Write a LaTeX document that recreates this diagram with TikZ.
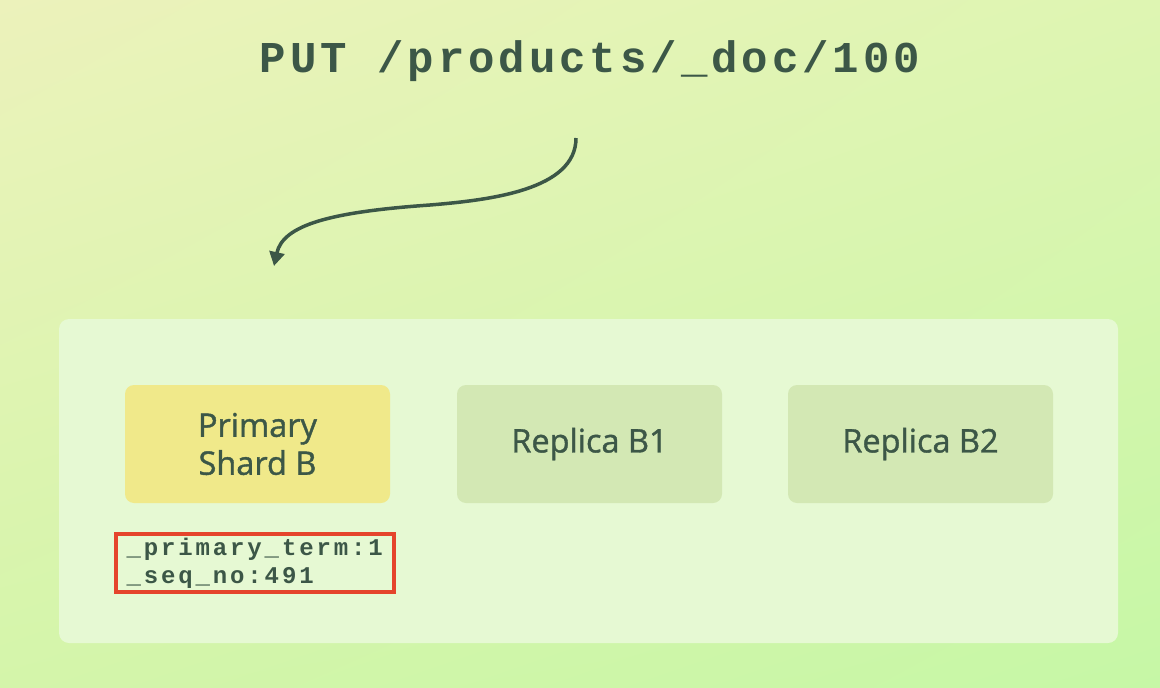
\documentclass[tikz,border=0pt]{standalone}
\usepackage{fontspec}
\setmainfont{Open Sans}
\newfontfamily\labelfont[FakeBold=1.2]{Open Sans}
\newfontfamily\titlemono[LetterSpace=9]{Liberation Mono Bold}
\newfontfamily\smallmono[LetterSpace=12]{Liberation Mono Bold}
\usetikzlibrary{arrows.meta,shadings}
\definecolor{ink}{HTML}{3C5747}
\definecolor{panelc}{HTML}{E6F9D3}
\definecolor{primc}{HTML}{F0E98A}
\definecolor{repc}{HTML}{D3E8B4}
\definecolor{redc}{HTML}{E5452C}
\definecolor{bgul}{HTML}{ECF2BB}
\definecolor{bgur}{HTML}{DEF5B2}
\definecolor{bgll}{HTML}{D4F5AA}
\definecolor{bglr}{HTML}{C6F7A6}
\tikzset{
  shardbox/.style={rounded corners=9pt, minimum width=265pt, minimum height=118pt,
    inner sep=0pt, font=\labelfont\fontsize{32.5}{38}\selectfont, text=ink, align=center},
}
\begin{document}
\begin{tikzpicture}[x=1pt,y=-1pt]
\useasboundingbox (0,0) rectangle (1160,688);
\shade[upper left=bgul, upper right=bgur, lower left=bgll, lower right=bglr]
  (0,0) rectangle (1160,688);
\fill[panelc, rounded corners=10pt] (59,319) rectangle (1118,643);
\node[anchor=base, text=ink, font=\titlemono\fontsize{44}{44}\selectfont] (title) at (590,72) {PUT /products/\_doc/100};
\node[shardbox, fill=primc] (prim) at (257.5,444) {Primary\\Shard B};
\node[shardbox, fill=repc] (rb1) at (589.5,444) {Replica B1};
\node[shardbox, fill=repc] (rb2) at (920.5,444) {Replica B2};
\node[draw=redc, line width=4pt, anchor=north west, minimum width=278pt, minimum height=58pt, inner sep=0pt] (meta) at (114,532) {};
\node[anchor=base west, text=ink, font=\smallmono\fontsize{24}{28}\selectfont] (t1) at (123,555) {\_primary\_term:1};
\node[anchor=base west, text=ink, font=\smallmono\fontsize{24}{28}\selectfont] (t2) at (123,583) {\_seq\_no:491};
\coordinate (a0) at (576,138);
\coordinate (a1) at (274,266);
\draw[ink, line width=3.5pt, -{Triangle[length=14pt,width=15pt]}] (a0) .. controls (576,190) and (490,200) .. (430,205) .. controls (330,212) and (283,225) .. (a1);
\end{tikzpicture}
\end{document}
